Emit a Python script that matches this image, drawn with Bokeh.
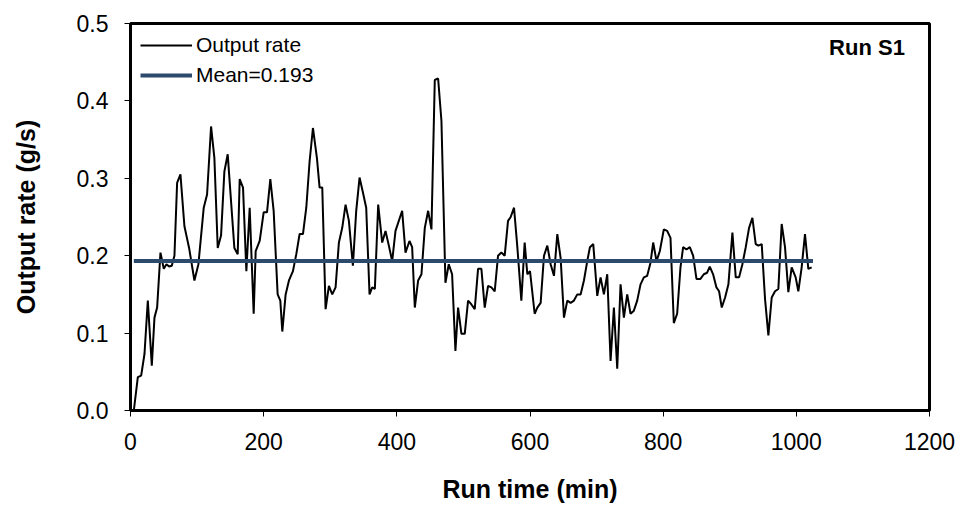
from bokeh.plotting import figure
from bokeh.models import FixedTicker, PrintfTickFormatter, Label, Range1d
from bokeh.embed import file_html
from bokeh.resources import INLINE

# Run time (min)
run_time = [5, 11, 16, 21, 26, 32, 36, 40, 45, 50, 54, 58, 62, 66, 70, 75, 81, 88, 96, 102,
            110, 115, 121, 126, 131, 136, 141, 146, 156, 161, 164, 169, 174, 179, 185, 188, 194,
            200, 205, 210, 215, 221, 225, 228, 233, 238, 244, 249, 254, 259, 264, 269, 274, 280,
            284, 288, 293, 298, 303, 308, 313, 318, 323, 328, 334, 339, 344, 349, 354, 359, 363,
            367, 372, 378, 383, 388, 393, 398, 408, 413, 419, 423, 427, 432, 437, 442, 447, 452,
            457, 462, 467, 473, 478, 483, 488, 492, 497, 502, 507, 512, 517, 522, 527, 532, 537,
            542, 547, 552, 557, 562, 567, 571, 576, 581, 587, 592, 596, 600, 607, 611, 616, 621,
            626, 631, 636, 641, 646, 651, 656, 661, 666, 671, 676, 681, 686, 690, 695, 701, 706,
            711, 716, 721, 726, 731, 736, 741, 746, 751, 756, 761, 766, 771, 776, 781, 785, 790,
            795, 801, 806, 811, 816, 821, 826, 830, 835, 840, 845, 850, 856, 861, 866, 870, 875,
            880, 884, 888, 893, 898, 904, 909, 914, 919, 924, 929, 934, 939, 943, 948, 953, 958,
            963, 968, 973, 978, 983, 988, 993, 999, 1003, 1008, 1013, 1018, 1023]

# Output rate (g/s)
output_rate = [0.0, 0.043, 0.045, 0.073, 0.142, 0.058, 0.120, 0.133, 0.204, 0.183, 0.189, 0.186,
               0.187, 0.200, 0.294, 0.305, 0.238, 0.210, 0.168, 0.189, 0.262, 0.279, 0.367, 0.326,
               0.210, 0.226, 0.309, 0.331, 0.210, 0.202, 0.299, 0.288, 0.180, 0.262, 0.125, 0.206,
               0.219, 0.256, 0.256, 0.299, 0.258, 0.150, 0.142, 0.102, 0.150, 0.168, 0.180, 0.202,
               0.228, 0.228, 0.262, 0.322, 0.365, 0.326, 0.288, 0.288, 0.131, 0.161, 0.150, 0.159,
               0.217, 0.236, 0.266, 0.245, 0.187, 0.258, 0.301, 0.282, 0.262, 0.150, 0.159, 0.157,
               0.266, 0.217, 0.232, 0.213, 0.193, 0.232, 0.258, 0.204, 0.219, 0.211, 0.133, 0.168,
               0.176, 0.236, 0.258, 0.234, 0.427, 0.429, 0.374, 0.165, 0.189, 0.176, 0.077, 0.133,
               0.099, 0.099, 0.142, 0.137, 0.131, 0.183, 0.183, 0.133, 0.161, 0.159, 0.154, 0.200,
               0.204, 0.200, 0.245, 0.250, 0.262, 0.211, 0.142, 0.217, 0.176, 0.180, 0.125, 0.133,
               0.139, 0.200, 0.213, 0.189, 0.174, 0.228, 0.197, 0.120, 0.142, 0.139, 0.142, 0.150,
               0.150, 0.168, 0.193, 0.211, 0.215, 0.148, 0.172, 0.150, 0.176, 0.064, 0.133, 0.054,
               0.163, 0.120, 0.150, 0.125, 0.129, 0.142, 0.163, 0.172, 0.174, 0.191, 0.217, 0.193,
               0.206, 0.234, 0.232, 0.223, 0.113, 0.125, 0.185, 0.211, 0.208, 0.211, 0.200, 0.170,
               0.170, 0.176, 0.178, 0.186, 0.176, 0.159, 0.154, 0.133, 0.146, 0.163, 0.230, 0.172,
               0.172, 0.189, 0.211, 0.236, 0.249, 0.215, 0.213, 0.215, 0.144, 0.097, 0.146, 0.154,
               0.157, 0.241, 0.211, 0.153, 0.185, 0.172, 0.154, 0.185, 0.228, 0.183, 0.185]

mean_rate = 0.193
mean_x = [run_time[0], 1025]
mean_y = [mean_rate, mean_rate]

x_ticks = [0, 200, 400, 600, 800, 1000, 1200]
y_ticks = [0.0, 0.1, 0.2, 0.3, 0.4, 0.5]

FONT = "Liberation Sans"
NAVY = "#2D4A6D"

p = figure(width=962, height=510, output_backend="svg", toolbar_location=None,
           x_range=Range1d(0, 1200), y_range=Range1d(0, 0.5),
           min_border_left=130, min_border_right=33, min_border_top=23, min_border_bottom=100)

p.line(run_time, output_rate, line_color="black", line_width=2, legend_label="Output rate")
p.line(mean_x, mean_y, line_color=NAVY, line_width=4, legend_label="Mean=0.193")

p.grid.visible = False
p.outline_line_color = "black"
p.outline_line_width = 3
p.background_fill_color = "white"
p.border_fill_color = "white"

for ax in (p.xaxis[0], p.yaxis[0]):
    ax.axis_line_color = "black"
    ax.axis_line_width = 3
    ax.major_tick_line_color = "black"
    ax.major_tick_line_width = 1
    ax.major_tick_out = 6
    ax.major_tick_in = 0
    ax.minor_tick_line_color = None
    ax.major_label_text_font = FONT
    ax.major_label_text_font_size = "23px"
    ax.major_label_text_color = "black"
    ax.axis_label_text_font = FONT
    ax.axis_label_text_font_size = "25px"
    ax.axis_label_text_font_style = "bold"
    ax.axis_label_text_color = "black"

p.xaxis.ticker = FixedTicker(ticks=x_ticks)
p.yaxis.ticker = FixedTicker(ticks=y_ticks)
p.yaxis.formatter = PrintfTickFormatter(format="%.1f")
p.xaxis.axis_label = "Run time (min)"
p.yaxis.axis_label = "Output rate (g/s)"
p.xaxis.major_label_standoff = 16
p.yaxis.major_label_standoff = 16
p.xaxis.axis_label_standoff = 22
p.yaxis.axis_label_standoff = 34

lg = p.legend[0]
lg.location = "top_left"
lg.background_fill_alpha = 0
lg.border_line_alpha = 0
lg.margin = 2
lg.padding = 8
lg.spacing = 6
lg.glyph_width = 52
lg.glyph_height = 24
lg.label_height = 24
lg.label_standoff = 4
lg.label_text_font = FONT
lg.label_text_font_size = "21px"
lg.label_text_color = "black"

p.add_layout(Label(x=1163, y=0.469, text="Run S1", text_align="right", text_baseline="middle",
                   text_font=FONT, text_font_size="22px", text_font_style="bold",
                   text_color="black"))

open("out.html", "w").write(file_html(p, INLINE))
